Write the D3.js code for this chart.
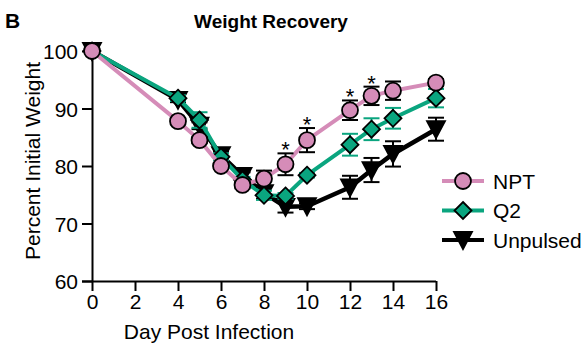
<!DOCTYPE html>
<html>
<head>
<meta charset="utf-8">
<script src="https://cdn.jsdelivr.net/npm/d3@7"></script>
<style>
  body { margin: 0; background: #fff; }
  svg { display: block; font-family: Arial, "Liberation Sans", sans-serif; }
</style>
</head>
<body>
<svg id="chart" width="587" height="346"></svg>
<script>
// Days sampled after infection
const days = [0, 4, 5, 6, 7, 8, 9, 10, 12, 13, 14, 16];

// Mean percent of initial body weight per group
const nptMean      = [100, 87.8, 84.5, 80.0, 76.7, 77.8, 80.3, 84.5, 89.7, 92.2, 93.1, 94.5];
const q2Mean       = [100, 91.8, 88.0, 81.6, 77.6, 74.9, 74.8, 78.4, 83.7, 86.4, 88.3, 91.8];
const unpulsedMean = [100, 91.5, 87.0, 81.9, 78.3, 75.3, 72.9, 73.0, 76.3, 79.3, 82.1, 86.4];

// Standard error per group
const nptErr      = [0, 0.4, 0.5, 0.5, 0.6, 1.4, 1.9, 2.1, 1.7, 1.6, 1.6, 0.6];
const q2Err       = [0, 0.5, 1.35, 0.6, 0.5, 0.8, 0.5, 0.4, 1.9, 1.9, 1.8, 1.6];
const unpulsedErr = [0, 0.4, 0.6, 0.6, 0.6, 1.0, 1.0, 0.5, 2.0, 2.1, 2.2, 2.0];

// Days marked significant
const sigDays = [9, 10, 12, 13];

const xTicks = [0, 2, 4, 6, 8, 10, 12, 14, 16];
const yTicks = [60, 70, 80, 90, 100];

const series = [
  { name: "NPT", mean: nptMean, err: nptErr, color: "#d58cb8", errColor: "#000", shape: "circle" },
  { name: "Q2", mean: q2Mean, err: q2Err, color: "#0aa57f", errColor: "#0aa57f", shape: "diamond" },
  { name: "Unpulsed", mean: unpulsedMean, err: unpulsedErr, color: "#000", errColor: "#000", shape: "triangle" }
];

const svg = d3.select("#chart");
const x = d3.scaleLinear().domain([0, 16]).range([92, 436]);
const y = d3.scaleLinear().domain([60, 100]).range([281, 51]);

// Panel letter and title
svg.append("text").attr("x", 5).attr("y", 28).attr("font-size", 21).attr("font-weight", "bold").text("B");
svg.append("text").attr("x", 271).attr("y", 28).attr("text-anchor", "middle")
  .attr("font-size", 19).attr("font-weight", "bold").text("Weight Recovery");

// Axes
const xAxis = svg.append("g").attr("transform", "translate(0,281)")
  .call(d3.axisBottom(x).tickValues(xTicks).tickSize(10).tickSizeOuter(0).tickPadding(3));
const yAxis = svg.append("g").attr("transform", "translate(92,0)")
  .call(d3.axisLeft(y).tickValues(yTicks).tickSize(10).tickSizeOuter(0).tickPadding(4));
[xAxis, yAxis].forEach(a => {
  a.select(".domain").attr("stroke", "#000").attr("stroke-width", 2);
  a.selectAll(".tick line").attr("stroke", "#000").attr("stroke-width", 2);
  a.selectAll(".tick text").attr("font-size", 21).attr("fill", "#000")
    .attr("font-family", "Arial, 'Liberation Sans', sans-serif");
});
xAxis.select(".domain").attr("d", `M${x(0) - 10},0.5H${x(16)}`);
yAxis.selectAll(".tick text").attr("dy", "0.36em");

svg.append("text").attr("x", 209).attr("y", 339).attr("text-anchor", "middle")
  .attr("font-size", 21).text("Day Post Infection");
svg.append("text").attr("transform", "translate(40,161) rotate(-90)")
  .attr("text-anchor", "middle").attr("font-size", 21).text("Percent Initial Weight");

function shapePath(shape) {
  if (shape === "circle") return d3.symbol(d3.symbolCircle, 200)();
  if (shape === "diamond") return "M0,-8.5L8.5,0L0,8.5L-8.5,0Z";
  return "M-9,-8L9,-8L0,9Z";
}

const line = d3.line();

// Draw back-to-front: Unpulsed, Q2, NPT
[2, 1, 0].forEach(si => {
  const s = series[si];
  const g = svg.append("g");
  g.append("path")
    .attr("d", line(days.map((d, i) => [x(d), y(s.mean[i])])))
    .attr("fill", "none").attr("stroke", s.color).attr("stroke-width", si === 2 ? 4.5 : 4)
    .attr("stroke-linejoin", "round");
  // error bars
  days.forEach((d, i) => {
    if (s.err[i] <= 0) return;
    const cx = x(d), lo = y(s.mean[i] - s.err[i]), hi = y(s.mean[i] + s.err[i]);
    g.append("line").attr("x1", cx).attr("x2", cx).attr("y1", lo).attr("y2", hi)
      .attr("stroke", s.errColor).attr("stroke-width", 2);
    [lo, hi].forEach(yy => g.append("line").attr("x1", cx - 8).attr("x2", cx + 8)
      .attr("y1", yy).attr("y2", yy).attr("stroke", s.errColor).attr("stroke-width", 2));
  });
  // markers
  days.forEach((d, i) => {
    g.append("path").attr("d", shapePath(s.shape))
      .attr("transform", `translate(${x(d)},${y(s.mean[i])})`)
      .attr("fill", s.color).attr("stroke", "#000").attr("stroke-width", 1.8);
  });
});

// Significance stars above NPT bars
sigDays.forEach(d => {
  const i = days.indexOf(d);
  svg.append("text").attr("x", x(d)).attr("y", y(nptMean[i] + nptErr[i]) + 4)
    .attr("text-anchor", "middle").attr("font-size", 22).text("*");
});

// Legend
const leg = svg.append("g");
series.forEach((s, i) => {
  const ly = 181 + i * 29.5;
  leg.append("line").attr("x1", 442).attr("x2", 484).attr("y1", ly).attr("y2", ly)
    .attr("stroke", s.color).attr("stroke-width", 4);
  leg.append("path").attr("d", shapePath(s.shape)).attr("transform", `translate(463,${ly})`)
    .attr("fill", s.color).attr("stroke", "#000").attr("stroke-width", 1.8);
  leg.append("text").attr("x", 493).attr("y", ly).attr("dy", "0.36em")
    .attr("font-size", 21).text(s.name);
});
</script>
</body>
</html>
